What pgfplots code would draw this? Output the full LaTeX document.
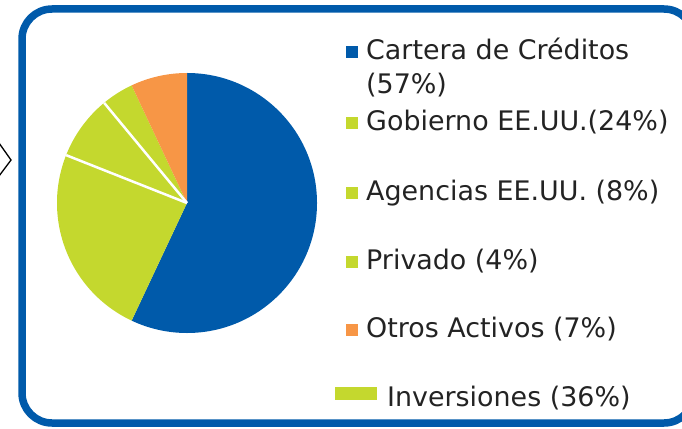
\documentclass[border=0pt]{standalone}
\usepackage{pgfplots}
\pgfplotsset{compat=1.18}
\usepackage{fontspec}
\setmainfont{DejaVu Sans}
\definecolor{cblue}{RGB}{0,90,170}
\definecolor{cgreen}{RGB}{196,216,46}
\definecolor{corange}{RGB}{247,150,70}
\definecolor{ctext}{RGB}{35,35,35}
% shares (%), clockwise from 12 o'clock
\def\vA{57}% Cartera de Creditos
\def\vB{24}% Gobierno EE.UU.
\def\vC{8}%  Agencias EE.UU.
\def\vD{4}%  Privado
\def\vE{7}%  Otros Activos
\pgfmathsetmacro\aA{90}
\pgfmathsetmacro\aB{\aA-3.6*\vA}
\pgfmathsetmacro\aC{\aB-3.6*\vB}
\pgfmathsetmacro\aD{\aC-3.6*\vC}
\pgfmathsetmacro\aE{\aD-3.6*\vD}
\pgfmathsetmacro\aF{\aE-3.6*\vE}
\newcommand\legfont{\fontsize{27}{30}\selectfont\color{ctext}}
\begin{document}
\begin{tikzpicture}[x=1bp,y=1bp]
\useasboundingbox (0,0) rectangle (682,428);
\draw[cblue, line width=7.5bp, rounded corners=30bp] (22,5) -- (22,419) -- (694,419) -- (694,5) -- cycle;
\draw[black, line width=1.3bp] (-1,285) -- (11,268) -- (-1,252);
\begin{axis}[scale only axis, width=260bp, height=260bp,
  xmin=-1, xmax=1, ymin=-1, ymax=1, hide axis,
  anchor=origin, at={(187bp,225bp)}]
\fill[cblue] (axis cs:0,0) -- (axis cs:{cos(\aA)},{sin(\aA)}) arc[start angle=\aA, end angle=\aB, radius=130bp] -- cycle;
\fill[cgreen] (axis cs:0,0) -- (axis cs:{cos(\aB)},{sin(\aB)}) arc[start angle=\aB, end angle=\aC, radius=130bp] -- cycle;
\fill[cgreen] (axis cs:0,0) -- (axis cs:{cos(\aC)},{sin(\aC)}) arc[start angle=\aC, end angle=\aD, radius=130bp] -- cycle;
\fill[cgreen] (axis cs:0,0) -- (axis cs:{cos(\aD)},{sin(\aD)}) arc[start angle=\aD, end angle=\aE, radius=130bp] -- cycle;
\fill[corange] (axis cs:0,0) -- (axis cs:{cos(\aE)},{sin(\aE)}) arc[start angle=\aE, end angle=\aF, radius=130bp] -- cycle;
\draw[white, line width=2.5bp] (axis cs:0,0) -- (axis cs:{cos(\aC)},{sin(\aC)});
\draw[white, line width=2.5bp] (axis cs:0,0) -- (axis cs:{cos(\aD)},{sin(\aD)});
\end{axis}
% legend
\fill[cblue]   (346,370) rectangle ++(12,12);
\fill[cgreen]  (346,299) rectangle ++(12,12);
\fill[cgreen]  (346,229) rectangle ++(12,12);
\fill[cgreen]  (346,160) rectangle ++(12,12);
\fill[corange] (346,92)  rectangle ++(12,12);
\fill[cgreen]  (335,28)  rectangle (377,41);
\node[anchor=base west, inner sep=0, font=\legfont] at (366,369) {Cartera de Créditos};
\node[anchor=base west, inner sep=0, font=\legfont] at (366,335) {(57\%)};
\node[anchor=base west, inner sep=0, font=\legfont] at (366,298) {Gobierno EE.UU.(24\%)};
\node[anchor=base west, inner sep=0, font=\legfont] at (366,228) {Agencias EE.UU. (8\%)};
\node[anchor=base west, inner sep=0, font=\legfont] at (366,159) {Privado (4\%)};
\node[anchor=base west, inner sep=0, font=\legfont] at (366,91)  {Otros Activos (7\%)};
\node[anchor=base west, inner sep=0, font=\legfont] at (387,22)  {Inversiones (36\%)};
\end{tikzpicture}
\end{document}
